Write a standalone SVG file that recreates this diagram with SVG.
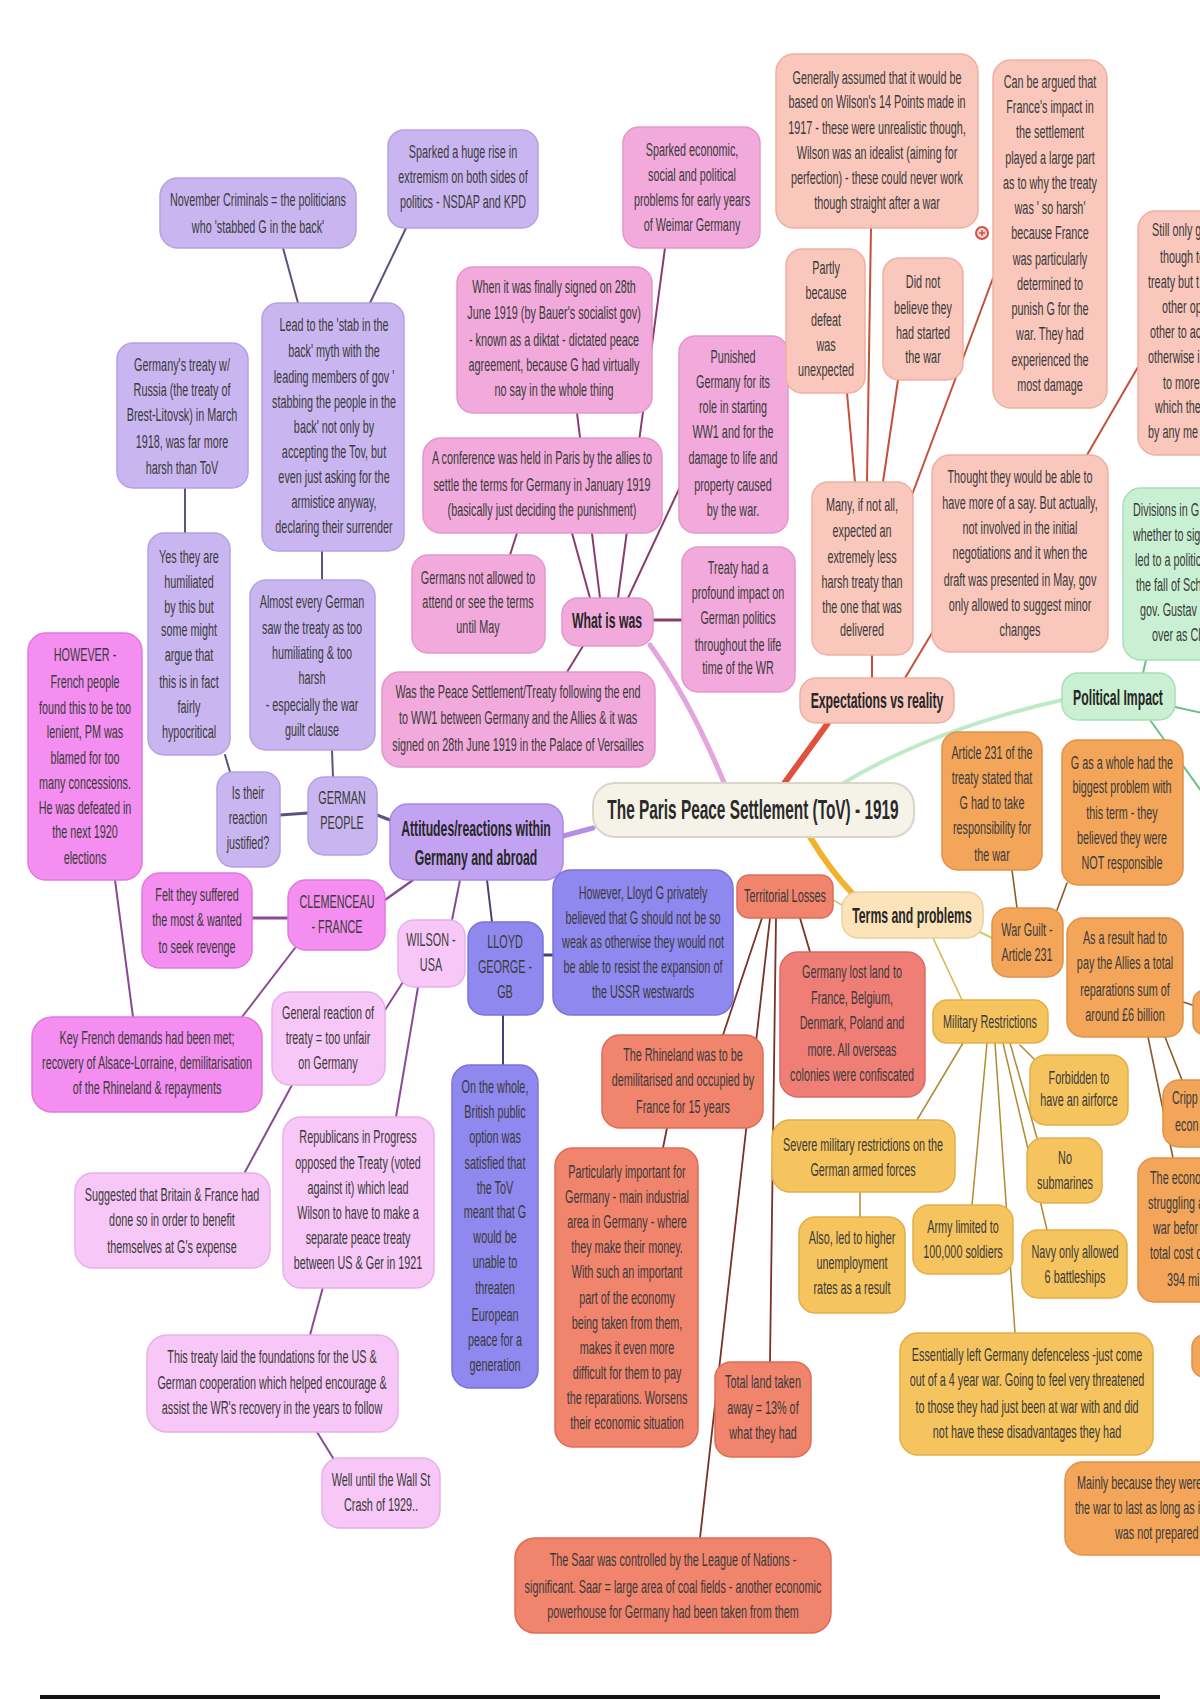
<svg xmlns="http://www.w3.org/2000/svg" width="1200" height="1700" viewBox="0 0 1200 1700">
<style>
.t{font-family:"Liberation Sans",Arial,sans-serif;font-size:19px;fill:#3a3a3a;text-anchor:middle}
.s{text-anchor:start}
.b{font-weight:bold;font-size:21.5px;fill:#262626}
.c{font-weight:bold;font-size:27px;fill:#2a2a2a}
rect{stroke-width:1.5}
.lav{fill:#c9b6f1;stroke:#b6a0e2}
.att{fill:#c2a3f1;stroke:#a98ae0}
.pnk{fill:#f2aadc;stroke:#e496cc}
.sal{fill:#f9c7bc;stroke:#eeb0a2}
.grn{fill:#c9f0d2;stroke:#a9deb6}
.org{fill:#f3a65a;stroke:#e0914a}
.yel{fill:#f5c45e;stroke:#e2ae48}
.trm{fill:#fde3b9;stroke:#ecd09e}
.ter{fill:#f1846d;stroke:#dc6e58}
.lst{fill:#ef7f76;stroke:#da6a62}
.mag{fill:#f48ef0;stroke:#e07ade}
.lpk{fill:#f7c8f7;stroke:#e8b0e8}
.blu{fill:#8f88ee;stroke:#7b73dc}
.cen{fill:#f5f3e8;stroke:#d9d6c9;stroke-width:2}
.ln{fill:none;stroke-linecap:round}
.lv{stroke:#5f5080;stroke-width:2}
.pk{stroke:#8a3c70;stroke-width:2}
.rd{stroke:#c4503a;stroke-width:2}
.gr{stroke:#6cc283;stroke-width:2}
.ob{stroke:#8a5a28;stroke-width:1.6}
.yb{stroke:#b08a35;stroke-width:1.5}
.tb{stroke:#7a3224;stroke-width:1.8}
.mg{stroke:#8a4a96;stroke-width:2}
.bl{stroke:#44447a;stroke-width:2}
</style>
<rect width="1200" height="1700" fill="#ffffff"/>
<g id="connectors">
<path class="ln lv" d="M283,248 L298,303"/>
<path class="ln lv" d="M407,226 L370,303"/>
<path class="ln lv" d="M322,551 L322,580"/>
<path class="ln lv" d="M185,488 L185,533"/>
<path class="ln lv" d="M332,750 L333,777"/>
<path class="ln lv" d="M225,755 L230,772"/>
<path class="ln lv" d="M280,815 L308,813" style="stroke-width:3"/>
<path class="ln lv" d="M377,815 L390,820" style="stroke-width:3"/>
<path class="ln pk" d="M572,533 L590,598"/>
<path class="ln pk" d="M577,413 L600,598"/>
<path class="ln pk" d="M665,248 L618,598"/>
<path class="ln pk" d="M680,487 L628,598"/>
<path class="ln pk" d="M510,555 L517,533"/>
<path class="ln pk" d="M653,620 L682,620" style="stroke-width:3"/>
<path class="ln pk" d="M567,672 L583,646"/>
<path class="ln" d="M650,645 Q690,700 725,785" stroke="#e5a3df" stroke-width="5"/>
<path class="ln rd" d="M847,393 L855,482"/>
<path class="ln rd" d="M871,227 L867,482"/>
<path class="ln rd" d="M898,380 L883,482"/>
<path class="ln rd" d="M993,278 L912,495"/>
<path class="ln rd" d="M1138,367 L1087,455"/>
<path class="ln rd" d="M872,655 L872,678"/>
<path class="ln rd" d="M932,633 L905,678"/>
<path class="ln" d="M828,723 L783,785" stroke="#e0503a" stroke-width="6"/>
<path class="ln" d="M1062,700 Q930,730 840,785" stroke="#bdebc8" stroke-width="4"/>
<path class="ln gr" d="M1143,673 L1146,660"/>
<path class="ln gr" d="M1175,707 L1202,713"/>
<path class="ln gr" d="M1150,720 L1202,792"/>
<path class="ln ob" d="M1012,870 L1017,908"/>
<path class="ln ob" d="M1067,883 L1057,910"/>
<path class="ln ob" d="M1148,1037 L1173,1158"/>
<path class="ln ob" d="M1165,1037 L1182,1080"/>
<path class="ln ob" d="M1183,1002 L1202,1008"/>
<path class="ln" d="M810,837 Q830,870 852,893" stroke="#f3b22c" stroke-width="6"/>
<path class="ln" d="M842,905 L833,900" stroke="#c8d070" stroke-width="2"/>
<path class="ln" d="M980,932 L992,938" stroke="#c8d070" stroke-width="2"/>
<path class="ln" d="M933,938 L962,1000" stroke="#d8b850" stroke-width="1.6"/>
<path class="ln yb" d="M963,1043 L917,1120"/>
<path class="ln yb" d="M987,1043 L972,1205"/>
<path class="ln yb" d="M995,1043 L1015,1333"/>
<path class="ln yb" d="M1003,1043 L1047,1230"/>
<path class="ln yb" d="M1010,1043 L1037,1138"/>
<path class="ln yb" d="M1020,1045 L1035,1060"/>
<path class="ln yb" d="M860,1192 L860,1217"/>
<path class="ln tb" d="M762,918 L723,1035"/>
<path class="ln tb" d="M770,918 L700,1538"/>
<path class="ln tb" d="M776,918 L770,1362"/>
<path class="ln tb" d="M800,918 L810,952"/>
<path class="ln tb" d="M667,1128 L663,1148"/>
<path class="ln mg" d="M252,918 L288,918" style="stroke-width:3"/>
<path class="ln mg" d="M385,900 L413,880" style="stroke-width:2.5"/>
<path class="ln mg" d="M295,948 L242,1017"/>
<path class="ln mg" d="M115,880 L133,1017"/>
<path class="ln mg" d="M460,880 L452,920"/>
<path class="ln mg" d="M403,982 L385,1010"/>
<path class="ln mg" d="M418,987 L396,1117"/>
<path class="ln mg" d="M292,1085 L245,1172"/>
<path class="ln mg" d="M323,1287 L310,1335"/>
<path class="ln mg" d="M317,1432 L333,1458"/>
<path class="ln bl" d="M487,880 L492,922"/>
<path class="ln bl" d="M543,955 L553,955" style="stroke-width:3"/>
<path class="ln bl" d="M503,1015 L503,1065"/>
<path class="ln" d="M563,836 L593,828" stroke="#b68ee8" stroke-width="5"/>
</g>

<g id="n-central"><rect class="cen" x="593" y="783" width="321" height="54" rx="22"/><text class="t c" transform="translate(753 0) scale(0.57 1)"><tspan x="0" y="819">The Paris Peace Settlement (ToV) - 1919</tspan></text></g>

<g id="n-nov"><rect class="lav" x="160" y="178" width="196" height="70" rx="18"/><text class="t" transform="translate(258 0) scale(0.57 1)"><tspan x="0" y="206">November Criminals = the politicians</tspan><tspan x="0" y="233">who 'stabbed G in the back'</tspan></text></g>
<g id="n-sparked-ext"><rect class="lav" x="388" y="130" width="150" height="98" rx="16"/><text class="t" transform="translate(463 0) scale(0.57 1)"><tspan x="0" y="158">Sparked a huge rise in</tspan><tspan x="0" y="183">extremism on both sides of</tspan><tspan x="0" y="208">politics - NSDAP and KPD</tspan></text></g>
<g id="n-lead"><rect class="lav" x="262" y="303" width="142" height="248" rx="16"/><text class="t" transform="translate(334 0) scale(0.57 1)"><tspan x="0" y="331">Lead to the 'stab in the</tspan><tspan x="0" y="357">back' myth with the</tspan><tspan x="0" y="383">leading members of gov '</tspan><tspan x="0" y="408">stabbing the people in the</tspan><tspan x="0" y="433">back' not only by</tspan><tspan x="0" y="458">accepting the Tov, but</tspan><tspan x="0" y="483">even just asking for the</tspan><tspan x="0" y="508">armistice anyway,</tspan><tspan x="0" y="533">declaring their surrender</tspan></text></g>
<g id="n-brest"><rect class="lav" x="117" y="343" width="131" height="145" rx="16"/><text class="t" transform="translate(182 0) scale(0.57 1)"><tspan x="0" y="371">Germany's treaty w/</tspan><tspan x="0" y="396">Russia (the treaty of</tspan><tspan x="0" y="421">Brest-Litovsk) in March</tspan><tspan x="0" y="448">1918, was far more</tspan><tspan x="0" y="474">harsh than ToV</tspan></text></g>
<g id="n-yes"><rect class="lav" x="148" y="533" width="82" height="222" rx="16"/><text class="t" transform="translate(189 0) scale(0.57 1)"><tspan x="0" y="563">Yes they are</tspan><tspan x="0" y="588">humiliated</tspan><tspan x="0" y="613">by this but</tspan><tspan x="0" y="636">some might</tspan><tspan x="0" y="661">argue that</tspan><tspan x="0" y="688">this is in fact</tspan><tspan x="0" y="713">fairly</tspan><tspan x="0" y="738">hypocritical</tspan></text></g>
<g id="n-almost"><rect class="lav" x="250" y="580" width="125" height="170" rx="16"/><text class="t" transform="translate(312 0) scale(0.57 1)"><tspan x="0" y="608">Almost every German</tspan><tspan x="0" y="634">saw the treaty as too</tspan><tspan x="0" y="659">humiliating &amp; too</tspan><tspan x="0" y="684">harsh</tspan><tspan x="0" y="711">- especially the war</tspan><tspan x="0" y="736">guilt clause</tspan></text></g>
<g id="n-german"><rect class="lav" x="308" y="777" width="69" height="78" rx="16"/><text class="t" transform="translate(342 0) scale(0.57 1)"><tspan x="0" y="804">GERMAN</tspan><tspan x="0" y="829">PEOPLE</tspan></text></g>
<g id="n-is"><rect class="lav" x="217" y="772" width="63" height="95" rx="16"/><text class="t" transform="translate(248 0) scale(0.57 1)"><tspan x="0" y="799">Is their</tspan><tspan x="0" y="824">reaction</tspan><tspan x="0" y="849">justified?</tspan></text></g>
<g id="n-attitudes"><rect class="att" x="390" y="804" width="173" height="76" rx="18"/><text class="t b" transform="translate(476 0) scale(0.57 1)"><tspan x="0" y="836">Attitudes/reactions within</tspan><tspan x="0" y="865">Germany and abroad</tspan></text></g>

<g id="n-sparked-econ"><rect class="pnk" x="623" y="127" width="137" height="121" rx="16"/><text class="t" transform="translate(692 0) scale(0.57 1)"><tspan x="0" y="156">Sparked economic,</tspan><tspan x="0" y="181">social and political</tspan><tspan x="0" y="206">problems for early years</tspan><tspan x="0" y="231">of Weimar Germany</tspan></text></g>
<g id="n-when"><rect class="pnk" x="457" y="267" width="195" height="146" rx="16"/><text class="t" transform="translate(554 0) scale(0.57 1)"><tspan x="0" y="293">When it was finally signed on 28th</tspan><tspan x="0" y="319">June 1919 (by Bauer's socialist gov)</tspan><tspan x="0" y="346">- known as a diktat - dictated peace</tspan><tspan x="0" y="371">agreement, because G had virtually</tspan><tspan x="0" y="396">no say in the whole thing</tspan></text></g>
<g id="n-punished"><rect class="pnk" x="679" y="336" width="109" height="197" rx="16"/><text class="t" transform="translate(733 0) scale(0.57 1)"><tspan x="0" y="363">Punished</tspan><tspan x="0" y="388">Germany for its</tspan><tspan x="0" y="413">role in starting</tspan><tspan x="0" y="438">WW1 and for the</tspan><tspan x="0" y="464">damage to life and</tspan><tspan x="0" y="491">property caused</tspan><tspan x="0" y="516">by the war.</tspan></text></g>
<g id="n-conference"><rect class="pnk" x="423" y="438" width="239" height="95" rx="18"/><text class="t" transform="translate(542 0) scale(0.57 1)"><tspan x="0" y="464">A conference was held in Paris by the allies to</tspan><tspan x="0" y="491">settle the terms for Germany in January 1919</tspan><tspan x="0" y="516">(basically just deciding the punishment)</tspan></text></g>
<g id="n-germans"><rect class="pnk" x="412" y="555" width="133" height="98" rx="16"/><text class="t" transform="translate(478 0) scale(0.57 1)"><tspan x="0" y="584">Germans not allowed to</tspan><tspan x="0" y="608">attend or see the terms</tspan><tspan x="0" y="633">until May</tspan></text></g>
<g id="n-what"><rect class="pnk" x="562" y="598" width="91" height="48" rx="16"/><text class="t b" transform="translate(607 0) scale(0.57 1)"><tspan x="0" y="628">What is was</tspan></text></g>
<g id="n-treaty-impact"><rect class="pnk" x="682" y="547" width="113" height="145" rx="16"/><text class="t" transform="translate(738 0) scale(0.57 1)"><tspan x="0" y="574">Treaty had a</tspan><tspan x="0" y="599">profound impact on</tspan><tspan x="0" y="624">German politics</tspan><tspan x="0" y="651">throughout the life</tspan><tspan x="0" y="674">time of the WR</tspan></text></g>
<g id="n-was"><rect class="pnk" x="382" y="672" width="273" height="95" rx="18"/><text class="t" transform="translate(518 0) scale(0.57 1)"><tspan x="0" y="698">Was the Peace Settlement/Treaty following the end</tspan><tspan x="0" y="724">to WW1 between Germany and the Allies &amp; it was</tspan><tspan x="0" y="751">signed on 28th June 1919 in the Palace of Versailles</tspan></text></g>

<g id="n-generally"><rect class="sal" x="776" y="54" width="202" height="174" rx="18"/><text class="t" transform="translate(877 0) scale(0.57 1)"><tspan x="0" y="84">Generally assumed that it would be</tspan><tspan x="0" y="108">based on Wilson's 14 Points made in</tspan><tspan x="0" y="134">1917  - these were unrealistic though,</tspan><tspan x="0" y="159">Wilson was an idealist (aiming for</tspan><tspan x="0" y="184">perfection) - these could never work</tspan><tspan x="0" y="209">though straight after a war</tspan></text></g>
<g id="icon"><circle cx="982" cy="233" r="6" fill="#f7d0c8" stroke="#d0504a" stroke-width="2"/><path d="M979,233 L985,233 M982,230 L982,236" stroke="#d0504a" stroke-width="1.5"/></g>
<g id="n-canbe"><rect class="sal" x="993" y="60" width="114" height="348" rx="18"/><text class="t" transform="translate(1050 0) scale(0.57 1)"><tspan x="0" y="88">Can be argued that</tspan><tspan x="0" y="113">France's impact in</tspan><tspan x="0" y="138">the settlement</tspan><tspan x="0" y="164">played a large part</tspan><tspan x="0" y="189">as to why the treaty</tspan><tspan x="0" y="214">was ' so harsh'</tspan><tspan x="0" y="239">because France</tspan><tspan x="0" y="265">was particularly</tspan><tspan x="0" y="290">determined to</tspan><tspan x="0" y="315">punish G for the</tspan><tspan x="0" y="340">war. They had</tspan><tspan x="0" y="366">experienced the</tspan><tspan x="0" y="391">most damage</tspan></text></g>
<g id="n-partly"><rect class="sal" x="786" y="249" width="79" height="144" rx="16"/><text class="t" transform="translate(826 0) scale(0.57 1)"><tspan x="0" y="274">Partly</tspan><tspan x="0" y="299">because</tspan><tspan x="0" y="326">defeat</tspan><tspan x="0" y="351">was</tspan><tspan x="0" y="376">unexpected</tspan></text></g>
<g id="n-didnot"><rect class="sal" x="883" y="258" width="80" height="122" rx="16"/><text class="t" transform="translate(923 0) scale(0.57 1)"><tspan x="0" y="288">Did not</tspan><tspan x="0" y="314">believe they</tspan><tspan x="0" y="339">had started</tspan><tspan x="0" y="363">the war</tspan></text></g>
<g id="n-still"><rect class="sal" x="1138" y="211" width="90" height="244" rx="18"/>
<text class="t s" transform="translate(1152 0) scale(0.57 1)" y="236">Still only g</text>
<text class="t s" transform="translate(1160 0) scale(0.57 1)" y="263">though to</text>
<text class="t s" transform="translate(1148 0) scale(0.57 1)" y="288">treaty but t</text>
<text class="t s" transform="translate(1162 0) scale(0.57 1)" y="313">other op</text>
<text class="t s" transform="translate(1150 0) scale(0.57 1)" y="338">other to ac</text>
<text class="t s" transform="translate(1148 0) scale(0.57 1)" y="363">otherwise i</text>
<text class="t s" transform="translate(1163 0) scale(0.57 1)" y="389">to more</text>
<text class="t s" transform="translate(1155 0) scale(0.57 1)" y="413">which the</text>
<text class="t s" transform="translate(1148 0) scale(0.57 1)" y="438">by any me</text></g>
<g id="n-many"><rect class="sal" x="812" y="482" width="101" height="173" rx="16"/><text class="t" transform="translate(862 0) scale(0.57 1)"><tspan x="0" y="511">Many, if not all,</tspan><tspan x="0" y="537">expected an</tspan><tspan x="0" y="563">extremely less</tspan><tspan x="0" y="588">harsh treaty than</tspan><tspan x="0" y="613">the one that was</tspan><tspan x="0" y="636">delivered</tspan></text></g>
<g id="n-thought"><rect class="sal" x="932" y="455" width="176" height="197" rx="18"/><text class="t" transform="translate(1020 0) scale(0.57 1)"><tspan x="0" y="483">Thought they would be able to</tspan><tspan x="0" y="509">have more of a say. But actually,</tspan><tspan x="0" y="534">not involved in the initial</tspan><tspan x="0" y="559">negotiations and it when the</tspan><tspan x="0" y="586">draft was presented in May, gov</tspan><tspan x="0" y="611">only allowed to suggest minor</tspan><tspan x="0" y="636">changes</tspan></text></g>
<g id="n-expect"><rect class="sal" x="800" y="678" width="154" height="45" rx="16"/><text class="t b" transform="translate(877 0) scale(0.57 1)"><tspan x="0" y="708">Expectations vs reality</tspan></text></g>

<g id="n-political"><rect class="grn" x="1062" y="673" width="113" height="47" rx="16"/><text class="t b" transform="translate(1118 0) scale(0.57 1)"><tspan x="0" y="705">Political Impact</tspan></text></g>
<g id="n-divisions"><rect class="grn" x="1123" y="488" width="100" height="172" rx="18"/>
<text class="t s" transform="translate(1133 0) scale(0.57 1)" y="516">Divisions in G</text>
<text class="t s" transform="translate(1133 0) scale(0.57 1)" y="541">whether to sig</text>
<text class="t s" transform="translate(1135 0) scale(0.57 1)" y="566">led to a politic</text>
<text class="t s" transform="translate(1136 0) scale(0.57 1)" y="591">the fall of Sch</text>
<text class="t s" transform="translate(1140 0) scale(0.57 1)" y="616">gov. Gustav</text>
<text class="t s" transform="translate(1152 0) scale(0.57 1)" y="641">over as Ch</text></g>

<g id="n-art231"><rect class="org" x="942" y="732" width="100" height="138" rx="16"/><text class="t" transform="translate(992 0) scale(0.57 1)"><tspan x="0" y="759">Article 231 of the</tspan><tspan x="0" y="784">treaty stated that</tspan><tspan x="0" y="809">G had to take</tspan><tspan x="0" y="834">responsibility for</tspan><tspan x="0" y="861">the war</tspan></text></g>
<g id="n-gwhole"><rect class="org" x="1062" y="740" width="121" height="145" rx="16"/><text class="t" transform="translate(1122 0) scale(0.57 1)"><tspan x="0" y="769">G as a whole had the</tspan><tspan x="0" y="793">biggest problem with</tspan><tspan x="0" y="819">this term - they</tspan><tspan x="0" y="844">believed they were</tspan><tspan x="0" y="869">NOT responsible</tspan></text></g>
<g id="n-warguilt"><rect class="org" x="992" y="908" width="71" height="69" rx="16"/><text class="t" transform="translate(1027 0) scale(0.57 1)"><tspan x="0" y="936">War Guilt -</tspan><tspan x="0" y="961">Article 231</tspan></text></g>
<g id="n-result"><rect class="org" x="1067" y="918" width="116" height="119" rx="16"/><text class="t" transform="translate(1125 0) scale(0.57 1)"><tspan x="0" y="944">As a result had to</tspan><tspan x="0" y="969">pay the Allies a total</tspan><tspan x="0" y="996">reparations sum of</tspan><tspan x="0" y="1021">around £6 billion</tspan></text></g>
<g id="n-edge1"><rect class="org" x="1193" y="990" width="30" height="45" rx="12"/></g>
<g id="n-cripp"><rect class="org" x="1163" y="1080" width="60" height="67" rx="16"/>
<text class="t s" transform="translate(1172 0) scale(0.57 1)" y="1104">Cripp</text>
<text class="t s" transform="translate(1175 0) scale(0.57 1)" y="1131">econ</text></g>
<g id="n-econo"><rect class="org" x="1138" y="1158" width="80" height="144" rx="16"/>
<text class="t s" transform="translate(1150 0) scale(0.57 1)" y="1184">The econo</text>
<text class="t s" transform="translate(1148 0) scale(0.57 1)" y="1209">struggling a</text>
<text class="t s" transform="translate(1153 0) scale(0.57 1)" y="1234">war befor</text>
<text class="t s" transform="translate(1150 0) scale(0.57 1)" y="1259">total cost o</text>
<text class="t s" transform="translate(1167 0) scale(0.57 1)" y="1286">394 mi</text></g>
<g id="n-edge2"><rect class="org" x="1192" y="1335" width="30" height="42" rx="12"/></g>
<g id="n-mainly"><rect class="org" x="1065" y="1462" width="160" height="93" rx="18"/>
<text class="t s" transform="translate(1077 0) scale(0.57 1)" y="1489">Mainly because they were</text>
<text class="t s" transform="translate(1075 0) scale(0.57 1)" y="1514">the war to last as long as i</text>
<text class="t s" transform="translate(1115 0) scale(0.57 1)" y="1539">was not prepared</text></g>

<g id="n-terms"><rect class="trm" x="842" y="892" width="141" height="46" rx="16"/><text class="t b" transform="translate(912 0) scale(0.57 1)"><tspan x="0" y="923">Terms and problems</tspan></text></g>

<g id="n-military"><rect class="yel" x="933" y="1000" width="115" height="43" rx="14"/><text class="t" transform="translate(990 0) scale(0.57 1)"><tspan x="0" y="1028">Military Restrictions</tspan></text></g>
<g id="n-forbidden"><rect class="yel" x="1030" y="1055" width="98" height="70" rx="16"/><text class="t" transform="translate(1079 0) scale(0.57 1)"><tspan x="0" y="1084">Forbidden to</tspan><tspan x="0" y="1106">have an airforce</tspan></text></g>
<g id="n-nosub"><rect class="yel" x="1027" y="1138" width="75" height="65" rx="16"/><text class="t" transform="translate(1065 0) scale(0.57 1)"><tspan x="0" y="1164">No</tspan><tspan x="0" y="1189">submarines</tspan></text></g>
<g id="n-severe"><rect class="yel" x="772" y="1120" width="183" height="72" rx="18"/><text class="t" transform="translate(863 0) scale(0.57 1)"><tspan x="0" y="1151">Severe military restrictions on the</tspan><tspan x="0" y="1176">German armed forces</tspan></text></g>
<g id="n-army"><rect class="yel" x="913" y="1205" width="100" height="69" rx="16"/><text class="t" transform="translate(963 0) scale(0.57 1)"><tspan x="0" y="1233">Army limited to</tspan><tspan x="0" y="1258">100,000 soldiers</tspan></text></g>
<g id="n-navy"><rect class="yel" x="1022" y="1230" width="105" height="68" rx="16"/><text class="t" transform="translate(1075 0) scale(0.57 1)"><tspan x="0" y="1258">Navy only allowed</tspan><tspan x="0" y="1283">6 battleships</tspan></text></g>
<g id="n-also"><rect class="yel" x="799" y="1217" width="106" height="96" rx="16"/><text class="t" transform="translate(852 0) scale(0.57 1)"><tspan x="0" y="1244">Also, led to higher</tspan><tspan x="0" y="1269">unemployment</tspan><tspan x="0" y="1294">rates as a result</tspan></text></g>
<g id="n-essentially"><rect class="yel" x="900" y="1333" width="253" height="122" rx="18"/><text class="t" transform="translate(1027 0) scale(0.57 1)"><tspan x="0" y="1361">Essentially left Germany defenceless -just come</tspan><tspan x="0" y="1386">out of a 4 year war. Going to feel very threatened</tspan><tspan x="0" y="1413">to those they had just been at war with and did</tspan><tspan x="0" y="1438">not have these disadvantages they had</tspan></text></g>

<g id="n-territorial"><rect class="ter" x="737" y="875" width="96" height="43" rx="12"/><text class="t" transform="translate(785 0) scale(0.57 1)"><tspan x="0" y="902">Territorial Losses</tspan></text></g>
<g id="n-rhine"><rect class="ter" x="602" y="1035" width="161" height="93" rx="18"/><text class="t" transform="translate(683 0) scale(0.57 1)"><tspan x="0" y="1061">The Rhineland was to be</tspan><tspan x="0" y="1086">demilitarised and occupied by</tspan><tspan x="0" y="1113">France for 15 years</tspan></text></g>
<g id="n-particularly"><rect class="ter" x="555" y="1148" width="143" height="299" rx="18"/><text class="t" transform="translate(627 0) scale(0.57 1)"><tspan x="0" y="1178">Particularly important for</tspan><tspan x="0" y="1203">Germany - main industrial</tspan><tspan x="0" y="1228">area in Germany - where</tspan><tspan x="0" y="1253">they make their money.</tspan><tspan x="0" y="1278">With such an important</tspan><tspan x="0" y="1304">part of the economy</tspan><tspan x="0" y="1329">being taken from them,</tspan><tspan x="0" y="1354">makes it even more</tspan><tspan x="0" y="1379">difficult for them to pay</tspan><tspan x="0" y="1404">the reparations. Worsens</tspan><tspan x="0" y="1429">their economic situation</tspan></text></g>
<g id="n-lostland"><rect class="lst" x="780" y="952" width="145" height="145" rx="18"/><text class="t" transform="translate(852 0) scale(0.57 1)"><tspan x="0" y="978">Germany lost land to</tspan><tspan x="0" y="1004">France, Belgium,</tspan><tspan x="0" y="1029">Denmark, Poland and</tspan><tspan x="0" y="1056">more. All overseas</tspan><tspan x="0" y="1081">colonies were confiscated</tspan></text></g>
<g id="n-total"><rect class="ter" x="715" y="1362" width="96" height="95" rx="16"/><text class="t" transform="translate(763 0) scale(0.57 1)"><tspan x="0" y="1388">Total land taken</tspan><tspan x="0" y="1414">away = 13% of</tspan><tspan x="0" y="1439">what they had</tspan></text></g>
<g id="n-saar"><rect class="ter" x="515" y="1538" width="316" height="95" rx="20"/><text class="t" transform="translate(673 0) scale(0.57 1)"><tspan x="0" y="1566">The Saar was controlled by the League of Nations -</tspan><tspan x="0" y="1593">significant. Saar = large area of coal fields - another economic</tspan><tspan x="0" y="1618">powerhouse for Germany had been taken from them</tspan></text></g>

<g id="n-however"><rect class="mag" x="28" y="633" width="114" height="247" rx="18"/><text class="t" transform="translate(85 0) scale(0.57 1)"><tspan x="0" y="661">HOWEVER -</tspan><tspan x="0" y="688">French people</tspan><tspan x="0" y="714">found this to be too</tspan><tspan x="0" y="738">lenient, PM was</tspan><tspan x="0" y="764">blamed for too</tspan><tspan x="0" y="789">many concessions.</tspan><tspan x="0" y="814">He was defeated in</tspan><tspan x="0" y="838">the next 1920</tspan><tspan x="0" y="864">elections</tspan></text></g>
<g id="n-felt"><rect class="mag" x="142" y="873" width="110" height="95" rx="18"/><text class="t" transform="translate(197 0) scale(0.57 1)"><tspan x="0" y="901">Felt they suffered</tspan><tspan x="0" y="926">the most &amp; wanted</tspan><tspan x="0" y="953">to seek revenge</tspan></text></g>
<g id="n-clemenceau"><rect class="mag" x="288" y="880" width="97" height="70" rx="18"/><text class="t" transform="translate(337 0) scale(0.57 1)"><tspan x="0" y="908">CLEMENCEAU</tspan><tspan x="0" y="933">- FRANCE</tspan></text></g>
<g id="n-keyfrench"><rect class="mag" x="32" y="1017" width="230" height="95" rx="20"/><text class="t" transform="translate(147 0) scale(0.57 1)"><tspan x="0" y="1044">Key French demands had been met;</tspan><tspan x="0" y="1069">recovery of Alsace-Lorraine, demilitarisation</tspan><tspan x="0" y="1094">of the Rhineland &amp; repayments</tspan></text></g>

<g id="n-wilson"><rect class="lpk" x="398" y="920" width="67" height="67" rx="16"/><text class="t" transform="translate(431 0) scale(0.57 1)"><tspan x="0" y="946">WILSON -</tspan><tspan x="0" y="971">USA</tspan></text></g>
<g id="n-general"><rect class="lpk" x="272" y="992" width="113" height="93" rx="18"/><text class="t" transform="translate(328 0) scale(0.57 1)"><tspan x="0" y="1019">General reaction of</tspan><tspan x="0" y="1044">treaty = too unfair</tspan><tspan x="0" y="1069">on Germany</tspan></text></g>
<g id="n-suggested"><rect class="lpk" x="75" y="1173" width="195" height="95" rx="18"/><text class="t" transform="translate(172 0) scale(0.57 1)"><tspan x="0" y="1201">Suggested that Britain &amp; France had</tspan><tspan x="0" y="1226">done so in order to benefit</tspan><tspan x="0" y="1253">themselves at G's expense</tspan></text></g>
<g id="n-republicans"><rect class="lpk" x="283" y="1117" width="151" height="171" rx="18"/><text class="t" transform="translate(358 0) scale(0.57 1)"><tspan x="0" y="1143">Republicans in Progress</tspan><tspan x="0" y="1169">opposed the Treaty (voted</tspan><tspan x="0" y="1194">against it) which lead</tspan><tspan x="0" y="1219">Wilson to have to make a</tspan><tspan x="0" y="1244">separate peace treaty</tspan><tspan x="0" y="1269">between US &amp; Ger in 1921</tspan></text></g>
<g id="n-thistreaty"><rect class="lpk" x="147" y="1335" width="251" height="97" rx="20"/><text class="t" transform="translate(272 0) scale(0.57 1)"><tspan x="0" y="1363">This treaty laid the foundations for the US &amp;</tspan><tspan x="0" y="1389">German cooperation which helped encourage &amp;</tspan><tspan x="0" y="1414">assist the WR's recovery in the years to follow</tspan></text></g>
<g id="n-welluntil"><rect class="lpk" x="322" y="1458" width="118" height="70" rx="18"/><text class="t" transform="translate(381 0) scale(0.57 1)"><tspan x="0" y="1486">Well until the Wall St</tspan><tspan x="0" y="1511">Crash of 1929..</tspan></text></g>

<g id="n-lloyd"><rect class="blu" x="468" y="922" width="75" height="93" rx="16"/><text class="t" transform="translate(505 0) scale(0.57 1)"><tspan x="0" y="948">LLOYD</tspan><tspan x="0" y="973">GEORGE -</tspan><tspan x="0" y="998">GB</tspan></text></g>
<g id="n-lloyd-private"><rect class="blu" x="553" y="870" width="180" height="145" rx="18"/><text class="t" transform="translate(643 0) scale(0.57 1)"><tspan x="0" y="899">However, Lloyd G privately</tspan><tspan x="0" y="924">believed that G should not be so</tspan><tspan x="0" y="948">weak as otherwise they would not</tspan><tspan x="0" y="973">be able to resist the expansion of</tspan><tspan x="0" y="998">the USSR westwards</tspan></text></g>
<g id="n-onwhole"><rect class="blu" x="452" y="1065" width="86" height="323" rx="18"/><text class="t" transform="translate(495 0) scale(0.57 1)"><tspan x="0" y="1093">On the whole,</tspan><tspan x="0" y="1118">British public</tspan><tspan x="0" y="1143">option was</tspan><tspan x="0" y="1169">satisfied that</tspan><tspan x="0" y="1194">the ToV</tspan><tspan x="0" y="1218">meant that G</tspan><tspan x="0" y="1243">would be</tspan><tspan x="0" y="1268">unable to</tspan><tspan x="0" y="1294">threaten</tspan><tspan x="0" y="1321">European</tspan><tspan x="0" y="1346">peace for a</tspan><tspan x="0" y="1371">generation</tspan></text></g>

<line x1="40" y1="1697" x2="1160" y2="1697" stroke="#111111" stroke-width="4"/>
</svg>
